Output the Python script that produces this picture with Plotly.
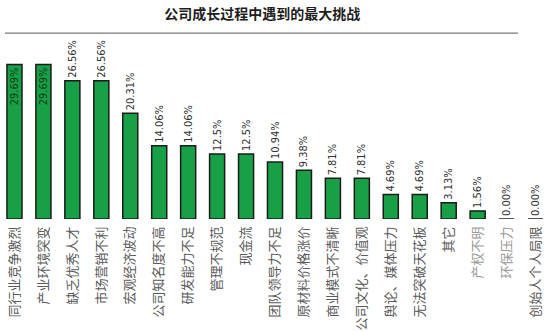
import plotly.graph_objects as go

categories = ["同行业竞争激烈", "产业环境突变", "缺乏优秀人才", "市场营销不利", "宏观经济波动",
              "公司知名度不高", "研发能力不足", "管理不规范", "现金流", "团队领导力不足",
              "原材料价格涨价", "商业模式不清晰", "公司文化、价值观", "舆论、媒体压力",
              "无法突破天花板", "其它", "产权不明", "环保压力", "创始人个人局限"]
values = [29.69, 29.69, 26.56, 26.56, 20.31, 14.06, 14.06, 12.5, 12.5, 10.94,
          9.38, 7.81, 7.81, 4.69, 4.69, 3.13, 1.56, 0.00, 0.00]
value_labels = ["29.69%", "29.69%", "26.56%", "26.56%", "20.31%", "14.06%", "14.06%",
                "12.5%", "12.5%", "10.94%", "9.38%", "7.81%", "7.81%", "4.69%", "4.69%",
                "3.13%", "1.56%", "0.00%", "0.00%"]
light_labels = ["产权不明", "环保压力"]

positions = ["inside" if v > 28 else "outside" for v in values]
tick_text = [f"<span style='color:#9a9a9a'>{c}</span>" if c in light_labels else c
             for c in categories]

label_family = "DejaVu Sans Condensed, Liberation Sans Narrow, sans-serif"

fig = go.Figure(go.Bar(
    x=list(range(len(categories))), y=values,
    text=value_labels, textposition=positions, textangle=-90,
    insidetextanchor="end", constraintext="none", cliponaxis=False,
    insidetextfont=dict(family=label_family, size=11, color="#0d3d1c"),
    outsidetextfont=dict(family=label_family, size=11, color="#333333"),
    marker=dict(color="#17a045", line=dict(color="#1b1b1b", width=1.5)),
    width=0.52,
))

fig.update_layout(
    width=550, height=331,
    margin=dict(l=0, r=0, t=40, b=109),
    paper_bgcolor="white", plot_bgcolor="white",
    showlegend=False,
    title=dict(text="<b>公司成长过程中遇到的最大挑战</b>", x=0.477, xanchor="center",
               y=1 - 14 / 331, yanchor="middle",
               font=dict(family="Noto Sans CJK SC", size=14, color="#1e1e1e")),
    xaxis=dict(range=[-0.5, 18.5], tickmode="array", tickvals=list(range(len(categories))),
               ticktext=tick_text, tickangle=-90, showgrid=False, zeroline=False,
               showline=False, ticks="", ticklabelstandoff=4,
               tickfont=dict(family="Noto Sans CJK SC", size=13, color="#5a5a5a")),
    yaxis=dict(range=[0, 34.4], visible=False, showgrid=False, zeroline=False),
    shapes=[dict(type="line", xref="paper", yref="paper", x0=5 / 550, x1=518 / 550,
                 y0=(222 - 33) / 182, y1=(222 - 33) / 182,
                 line=dict(color="#555555", width=1))],
)

fig.write_html("out.html")
